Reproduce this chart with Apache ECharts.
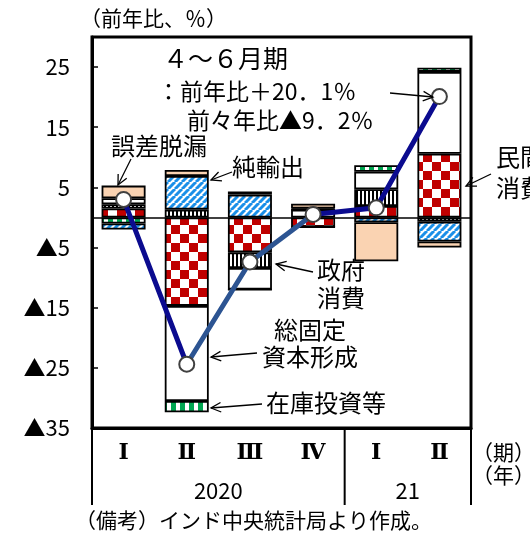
<!DOCTYPE html>
<html>
<head>
<meta charset="utf-8">
<script src="https://cdn.jsdelivr.net/npm/echarts@6/dist/echarts.min.js"></script>
<style>
  html, body { margin: 0; padding: 0; background: #fff; }
  #chart { width: 530px; height: 534px; }
</style>
</head>
<body>
<div id="chart"></div>
<script>
// 四半期
const quarters = ['Ⅰ', 'Ⅱ', 'Ⅲ', 'Ⅳ', 'Ⅰ', 'Ⅱ']
const years = ['2020', '21']
const yearCenters = [2, 5]
// 年の区切り（四半期の境界）
const yearBreaks = [0, 4, 6]

// 寄与度（％ポイント）
const privateCons = [1.5, -14.7, -5.8, -1.6, 1.9, 10.6]
const govCons = [0.7, 1.3, -2.6, 0, 2.8, -0.7]
const gfcf = [1.0, -15.8, -3.6, 1.3, 2.9, 13.6]
const inventory = [-1.0, -1.9, 0, 0, 1.1, 0.7]
const netExports = [-1.0, 5.6, 3.8, 0.2, -0.8, -3.3]
const discrepancy = [2.1, 1.0, 0.5, 0.8, -6.5, -1.0]
// 実質GDP成長率
const gdp = [3.0, -24.4, -7.4, 0.5, 1.6, 20.1]

const FONT = '"Noto Sans CJK JP", sans-serif'

const makePattern = (w, h, draw) => {
  const c = document.createElement('canvas')
  c.width = w
  c.height = h
  const ctx = c.getContext('2d')
  ctx.fillStyle = '#fff'
  ctx.fillRect(0, 0, w, h)
  draw(ctx, w, h)
  return { image: c, repeat: 'repeat' }
}

const checker = makePattern(18, 18, (ctx) => {
  ctx.fillStyle = '#c00000'
  ctx.fillRect(0, 0, 9, 9)
  ctx.fillRect(9, 9, 9, 9)
})
const vstripe = makePattern(4, 4, (ctx) => {
  ctx.fillStyle = '#000'
  ctx.fillRect(0, 0, 2, 4)
})
const diag = makePattern(7, 7, (ctx, s) => {
  ctx.strokeStyle = '#1a8fe8'
  ctx.lineWidth = 3
  for (let k = -1; k <= 1; k++) {
    ctx.beginPath()
    ctx.moveTo(k * s, s)
    ctx.lineTo(k * s + s, 0)
    ctx.stroke()
  }
})
const greenDash = makePattern(9, 4, (ctx) => {
  ctx.fillStyle = '#00a650'
  ctx.fillRect(0, 0, 5, 4)
})

const barSeries = (name, data, color) => ({
  name,
  type: 'bar',
  stack: 'total',
  barWidth: 44,
  data,
  itemStyle: { color, borderColor: '#000', borderWidth: 1.8 },
  z: 2
})

const arrow = (x1, y1, x2, y2) => {
  const a = Math.atan2(y2 - y1, x2 - x1)
  const L = 11
  const w = 0.45
  return [
    { type: 'line', z: 100, shape: { x1, y1, x2, y2 }, style: { stroke: '#000', lineWidth: 1.3 } },
    {
      type: 'polyline', z: 100,
      shape: { points: [
        [x2 - L * Math.cos(a - w), y2 - L * Math.sin(a - w)],
        [x2, y2],
        [x2 - L * Math.cos(a + w), y2 - L * Math.sin(a + w)]
      ] },
      style: { stroke: '#000', lineWidth: 1.3, fill: null }
    }
  ]
}

const label = (text, x, y, size) => ({
  type: 'text', z: 100, x, y,
  style: { text, fill: '#000', font: `${size || 24}px ${FONT}`, align: 'left', verticalAlign: 'middle' }
})

const chart = echarts.init(document.getElementById('chart'))

const annotations = [
  label('（前年比、％）', 80, 18, 21),
  label('４～６月期', 163, 58, 25),
  label('：前年比＋20．1％', 157, 91, 23),
  label('前々年比▲9．2％', 187, 120, 23),
  ...arrow(390, 93, 433, 97),
  label('誤差脱漏', 111, 146),
  ...arrow(131, 159, 118, 185),
  label('純輸出', 232, 167),
  ...arrow(232, 172, 211, 180),
  label('民間', 496, 157),
  label('消費', 496, 188),
  ...arrow(491, 174, 466, 186),
  label('政府', 317, 270),
  label('消費', 317, 298),
  ...arrow(313, 272, 276, 264),
  label('総固定', 274, 330),
  label('資本形成', 262, 357),
  ...arrow(257, 353, 211, 357),
  label('在庫投資等', 266, 403),
  ...arrow(262, 404, 211, 408),
  label('（期）', 472, 452, 21),
  label('（年）', 472, 475, 21),
  label('（備考）インド中央統計局より作成。', 75, 520, 21)
]

const option = {
  animation: false,
  textStyle: { fontFamily: FONT },
  grid: {
    left: 92, right: 59, top: 37, bottom: 106,
    show: true, borderColor: '#000', borderWidth: 3
  },
  xAxis: [{
    type: 'category',
    data: quarters,
    axisLine: { show: true, onZero: false, lineStyle: { color: '#000', width: 3 } },
    axisTick: { show: false },
    axisLabel: {
      interval: 0, margin: 14, fontSize: 22, fontWeight: 'bold', color: '#000',
      fontFamily: '"DejaVu Serif", "Noto Sans CJK JP", serif'
    }
  }, {
    type: 'value',
    min: 0, max: 6, interval: 1,
    position: 'bottom',
    axisLine: { show: false, onZero: false },
    axisTick: { show: false },
    splitLine: { show: false },
    axisLabel: {
      margin: 52, fontSize: 22, color: '#000', fontFamily: FONT,
      showMinLabel: true, showMaxLabel: true,
      formatter: (v) => {
        const i = yearCenters.indexOf(v)
        return i >= 0 ? years[i] : ''
      }
    }
  }],
  yAxis: {
    type: 'value',
    min: -35, max: 30, interval: 10,
    axisLine: { show: true, lineStyle: { color: '#000', width: 3 } },
    axisTick: { show: true, inside: true, length: 6, lineStyle: { color: '#000', width: 1.5 } },
    splitLine: { show: false },
    axisLabel: {
      margin: 22, fontSize: 22, color: '#000', fontFamily: FONT,
      showMaxLabel: false,
      formatter: (v) => (v < 0 ? '▲' + (-v) : String(v))
    }
  },
  visualMap: {
    show: false,
    type: 'piecewise',
    seriesIndex: 6,
    dimension: 0,
    pieces: [{ gte: 1, lte: 3, color: '#2c5492' }],
    outOfRange: { color: '#0b0b8f' }
  },
  series: [
    Object.assign(barSeries('民間消費', privateCons, checker), {
      markLine: {
        silent: true,
        symbol: ['none', 'none'],
        label: { show: false },
        lineStyle: { color: '#000', width: 1.5, type: 'solid' },
        data: [{ yAxis: 0 }]
      }
    }),
    barSeries('政府消費', govCons, vstripe),
    barSeries('総固定資本形成', gfcf, '#fff'),
    barSeries('在庫投資等', inventory, greenDash),
    barSeries('純輸出', netExports, diag),
    barSeries('誤差脱漏', discrepancy, '#fad3b2'),
    {
      name: '実質GDP成長率',
      type: 'line',
      data: gdp,
      showSymbol: false,
      lineStyle: { width: 5 },
      z: 5
    },
    {
      name: 'GDP点',
      type: 'scatter',
      data: gdp,
      symbol: 'circle',
      symbolSize: 15,
      itemStyle: { color: '#ffffff', borderColor: '#404040', borderWidth: 2, opacity: 1 },
      z: 6
    }
  ],
  graphic: annotations
}

chart.setOption(option)

// 年の区切り線（軸の下に伸ばす）
const yBottom = chart.convertToPixel({ yAxisIndex: 0 }, -35)
const separators = yearBreaks.map((b) => {
  const x = chart.convertToPixel({ xAxisIndex: 1 }, b)
  return {
    type: 'line', z: 100,
    shape: { x1: x, y1: yBottom, x2: x, y2: yBottom + 77 },
    style: { stroke: '#000', lineWidth: 2 }
  }
})
chart.setOption({ graphic: annotations.concat(separators) })
</script>
</body>
</html>
